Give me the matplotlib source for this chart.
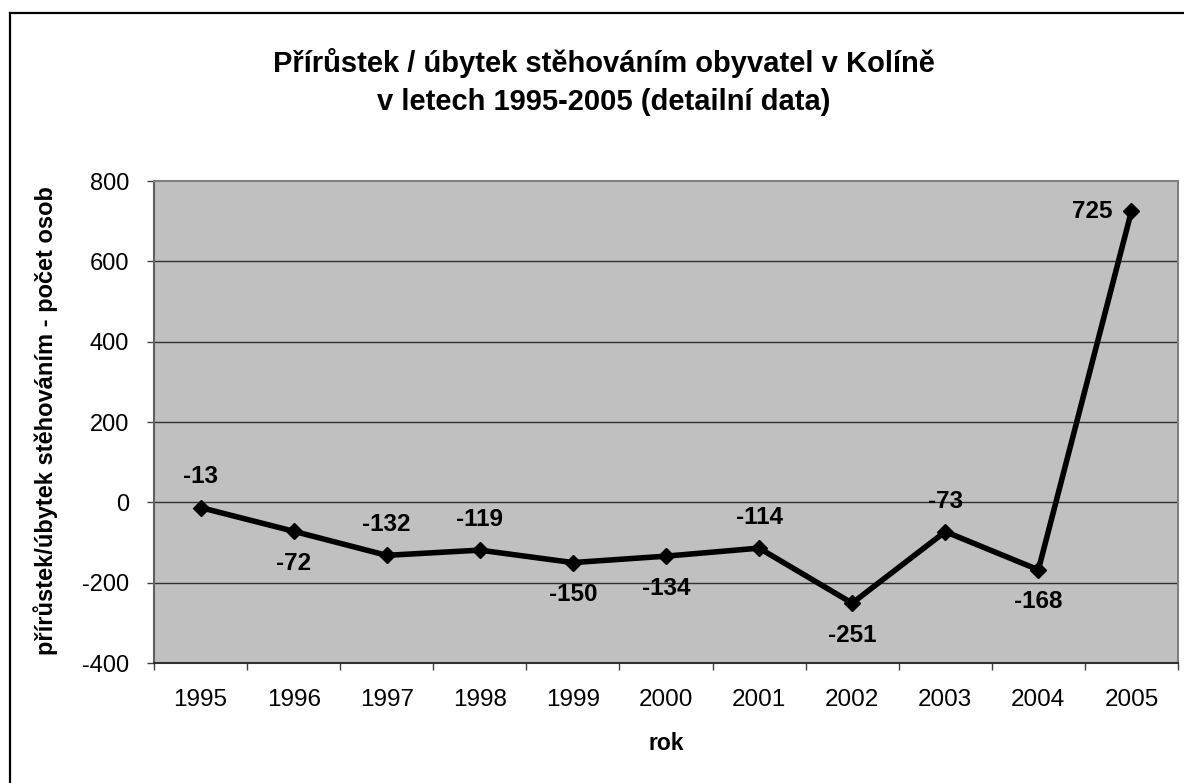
import matplotlib
matplotlib.use("Agg")
import matplotlib.pyplot as plt
from matplotlib.lines import Line2D
from matplotlib.ticker import FixedLocator

plt.rcParams['font.family'] = ['Liberation Sans', 'DejaVu Sans']

years = ['1995', '1996', '1997', '1998', '1999', '2000', '2001', '2002', '2003', '2004', '2005']
values = [-13, -72, -132, -119, -150, -134, -114, -251, -73, -168, 725]
label_pos = ['above', 'below', 'above', 'above', 'below', 'below', 'above', 'below', 'above', 'below', 'left']
yticks = [-400, -200, 0, 200, 400, 600, 800]

title = "Přírůstek / úbytek stěhováním obyvatel v Kolíně\nv letech 1995-2005 (detailní data)"
ylabel = "přírůstek/úbytek stěhováním - počet osob"
xlabel = "rok"

W, H = 1184, 783
fig = plt.figure(figsize=(W / 100, H / 100), dpi=100)
fig.patch.set_facecolor('white')

# outer chart border (left and top visible)
fig.add_artist(Line2D([9.5 / W, 9.5 / W], [0, 1 - 12.5 / H], transform=fig.transFigure,
                      color='black', lw=1.6))
fig.add_artist(Line2D([9.5 / W, 1], [1 - 12.5 / H, 1 - 12.5 / H], transform=fig.transFigure,
                      color='black', lw=1.6))

left, right, top, bottom = 154, 1178, 181, 663
ax = fig.add_axes([left / W, 1 - bottom / H, (right - left) / W, (bottom - top) / H])
ax.set_facecolor('#C0C0C0')

x = list(range(len(years)))
ax.plot(x, values, color='black', lw=4.0, marker='D', markersize=8.5, zorder=3,
        solid_joinstyle='miter')

ax.set_xlim(-0.5, len(years) - 0.5)
ax.set_ylim(-400, 800)
ax.set_yticks(yticks)
ax.set_yticklabels([str(v) for v in yticks], fontsize=17)
ax.set_xticks(x)
ax.set_xticklabels(years, fontsize=17.5)
ax.xaxis.set_minor_locator(FixedLocator([i - 0.5 for i in range(len(years) + 1)]))
ax.tick_params(axis='x', which='major', length=0, pad=19)
ax.tick_params(axis='x', which='minor', length=5, width=1, color='#404040', direction='out')
ax.tick_params(axis='y', which='major', length=5, width=1, color='#404040', direction='out', pad=13)

for v in yticks[1:-1]:
    ax.axhline(v, color='#303030', lw=1.0, zorder=1)

for s in ['top', 'right']:
    ax.spines[s].set_color('#808080')
    ax.spines[s].set_linewidth(1.5)
ax.spines['left'].set_color('#606060')
ax.spines['left'].set_linewidth(1.5)
ax.spines['bottom'].set_color('#303030')
ax.spines['bottom'].set_linewidth(1.5)

for xi, v, pos in zip(x, values, label_pos):
    if pos == 'above':
        off = (0, 22)
        ha = 'center'
    elif pos == 'below':
        off = (0, -23)
        ha = 'center'
    else:
        off = (-14, 0)
        ha = 'right'
    ax.annotate(str(v), (xi, v), xytext=off, textcoords='offset points',
                ha=ha, va='center', fontsize=17.5, fontweight='bold', zorder=4)

fig.text(604 / W, 1 - 82 / H, title, ha='center', va='center', fontsize=21,
         fontweight='bold', linespacing=1.45)
fig.text(46 / W, 1 - 421 / H, ylabel, ha='center', va='center', rotation=90,
         fontsize=17, fontweight='bold')
fig.text(666 / W, 1 - 744 / H, xlabel, ha='center', va='center', fontsize=16.5,
         fontweight='bold')

fig.savefig('out.png', dpi=100, facecolor='white')
